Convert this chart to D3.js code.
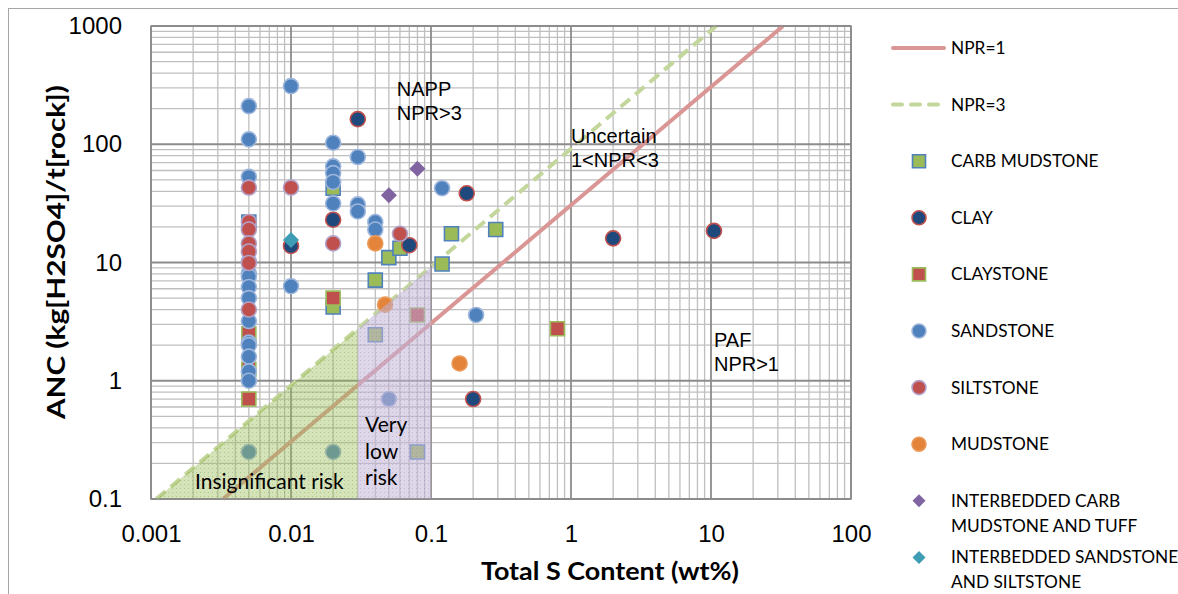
<!DOCTYPE html>
<html>
<head>
<meta charset="utf-8">
<script src="https://cdn.jsdelivr.net/npm/d3@7"></script>
<style>
  body { margin: 0; background: #ffffff; }
  svg { display: block; }
</style>
</head>
<body>
<svg id="chart" width="1178" height="594"></svg>
<script>
// ---- Axis ticks ----
const xTickValues = [0.001, 0.01, 0.1, 1, 10, 100];
const xTickLabels = ["0.001", "0.01", "0.1", "1", "10", "100"];
const yTickValues = [0.1, 1, 10, 100, 1000];
const yTickLabels = ["0.1", "1", "10", "100", "1000"];

// ---- Reference lines (ANC = NPR x 30.6 x S), end points inside the axes ----
const npr1S   = [0.00327, 32.7];
const npr1ANC = [0.1, 1000];
const npr3S   = [0.00109, 10.9];
const npr3ANC = [0.1, 1000];

// ---- Risk zones ----
const insignificantS   = [0.00109, 0.03, 0.03, 0.00109];
const insignificantANC = [0.1, 2.754, 0.1, 0.1];
const veryLowS   = [0.03, 0.1, 0.1, 0.03];
const veryLowANC = [2.754, 9.18, 0.1, 0.1];

// ---- Samples: total S (wt%) and ANC (kg H2SO4/t) ----
const carbMudstoneS   = [0.005, 0.02, 0.02, 0.04, 0.05, 0.06, 0.14, 0.29, 0.12, 0.04, 0.08];
const carbMudstoneANC = [22, 42.5, 4.2, 7.1, 11, 13.2, 17.5, 19, 9.7, 2.45, 0.25];

const clayS   = [0.03, 0.02, 0.01, 0.07, 0.18, 2, 10.5, 0.2];
const clayANC = [163, 23, 13.8, 14, 38.5, 16, 18.5, 0.7];

const claystoneS   = [0.005, 0.005, 0.005, 0.02, 0.08, 0.8];
const claystoneANC = [2.5, 1.25, 0.7, 5, 3.6, 2.75];

const sandstoneS   = [0.005, 0.005, 0.005, 0.005, 0.005, 0.005, 0.005, 0.005, 0.005, 0.005, 0.005, 0.005, 0.005, 0.005, 0.005,
                      0.01, 0.01, 0.02, 0.02, 0.02, 0.02, 0.02, 0.02, 0.03, 0.03, 0.03, 0.04, 0.04, 0.12, 0.21, 0.05];
const sandstoneANC = [210, 110, 53, 10.2, 8.1, 7.6, 6.2, 5, 3.2, 2.1, 2.0, 1.6, 1.2, 1.0, 0.25,
                      310, 6.3, 103, 65, 57, 48, 31.6, 0.25, 78, 31, 27, 22, 19, 42.5, 3.6, 0.7];

const siltstoneS   = [0.005, 0.005, 0.005, 0.005, 0.005, 0.005, 0.005, 0.01, 0.02, 0.06];
const siltstoneANC = [43, 22, 19, 14.5, 12.4, 9.9, 4, 43, 14.5, 17.5];

const mudstoneS   = [0.04, 0.047, 0.16];
const mudstoneANC = [14.5, 4.4, 1.4];

const carbTuffS   = [0.05, 0.08];
const carbTuffANC = [37, 62];

const sandSiltS   = [0.01];
const sandSiltANC = [15.5];

// ---- Layout ----
const svg = d3.select("#chart");
const plot = { left: 151, right: 851, top: 26, bottom: 499 };

const x = d3.scaleLog().domain([0.001, 100]).range([plot.left, plot.right]);
const y = d3.scaleLog().domain([0.1, 1000]).range([plot.bottom, plot.top]);

const ARIAL = "'Liberation Sans', Arial, sans-serif";
const SANS = "Lato, 'Open Sans', sans-serif";

// outer chart frame
svg.append("rect")
  .attr("x", 8.5).attr("y", 8.5).attr("width", 1300).attr("height", 700)
  .attr("fill", "#fff").attr("stroke", "#a6a6a6").attr("stroke-width", 1);

// ---- Grid ----
const minorX = [], minorY = [];
for (let e = -3; e < 2; e++) for (let m = 2; m <= 9; m++) minorX.push(m * Math.pow(10, e));
for (let e = -1; e < 3; e++) for (let m = 2; m <= 9; m++) minorY.push(m * Math.pow(10, e));

const grid = svg.append("g");
grid.selectAll("line.mx").data(minorX).join("line")
  .attr("x1", d => x(d)).attr("x2", d => x(d))
  .attr("y1", plot.top).attr("y2", plot.bottom)
  .attr("stroke", "#bfbfbf").attr("stroke-width", 1.3);
grid.selectAll("line.my").data(minorY).join("line")
  .attr("y1", d => y(d)).attr("y2", d => y(d))
  .attr("x1", plot.left).attr("x2", plot.right)
  .attr("stroke", "#bfbfbf").attr("stroke-width", 1.3);
grid.selectAll("line.Mx").data(xTickValues).join("line")
  .attr("x1", d => x(d)).attr("x2", d => x(d))
  .attr("y1", plot.top).attr("y2", plot.bottom)
  .attr("stroke", "#8c8c8c").attr("stroke-width", 1.8);
grid.selectAll("line.My").data(yTickValues).join("line")
  .attr("y1", d => y(d)).attr("y2", d => y(d))
  .attr("x1", plot.left).attr("x2", plot.right)
  .attr("stroke", "#8c8c8c").attr("stroke-width", 1.8);

// ---- Axes (labels only, grid provides the lines) ----
const xAxis = d3.axisBottom(x).tickValues(xTickValues)
  .tickFormat((d, i) => xTickLabels[i]).tickSize(0).tickPadding(26);
svg.append("g").attr("transform", `translate(0,${plot.bottom})`).call(xAxis)
  .call(g => g.select(".domain").remove())
  .selectAll("text").attr("font-family", ARIAL).attr("font-size", 24).attr("fill", "#000");

const yAxis = d3.axisLeft(y).tickValues(yTickValues)
  .tickFormat((d, i) => yTickLabels[i]).tickSize(0).tickPadding(29);
svg.append("g").attr("transform", `translate(${plot.left},0)`).call(yAxis)
  .call(g => g.select(".domain").remove())
  .selectAll("text").attr("font-family", ARIAL).attr("font-size", 24).attr("fill", "#000");

// ---- Reference lines ----
const line = d3.line().x(d => x(d[0])).y(d => y(d[1]));
svg.append("path").datum(d3.zip(npr1S, npr1ANC)).attr("d", line)
  .attr("fill", "none").attr("stroke", "#d99694").attr("stroke-width", 4);
svg.append("path").datum(d3.zip(npr3S, npr3ANC)).attr("d", line)
  .attr("fill", "none").attr("stroke", "#c3d69b").attr("stroke-width", 4)
  .attr("stroke-dasharray", "12,7");

// ---- Markers ----
function shapePath(kind, r) {
  if (kind === "square") return `M${-r},${-r}H${r}V${r}H${-r}Z`;
  if (kind === "diamond") return `M0,${-r}L${r},0L0,${r}L${-r},0Z`;
  return `M${r},0A${r},${r} 0 1,1 ${-r},0A${r},${r} 0 1,1 ${r},0Z`;
}

const series = [
  { name: "CARB MUDSTONE", s: carbMudstoneS, a: carbMudstoneANC, shape: "square", r: 7, fill: "#9bbb59", stroke: "#4f81bd" },
  { name: "CLAY", s: clayS, a: clayANC, shape: "circle", r: 7.5, fill: "#1f497d", stroke: "#c0504d" },
  { name: "CLAYSTONE", s: claystoneS, a: claystoneANC, shape: "square", r: 7, fill: "#c0504d", stroke: "#9bbb59" },
  { name: "SANDSTONE", s: sandstoneS, a: sandstoneANC, shape: "circle", r: 7.5, fill: "#4f81bd", stroke: "#9db6dc" },
  { name: "SILTSTONE", s: siltstoneS, a: siltstoneANC, shape: "circle", r: 7.5, fill: "#c0504d", stroke: "#b3a2c7" },
  { name: "MUDSTONE", s: mudstoneS, a: mudstoneANC, shape: "circle", r: 7.5, fill: "#e3843a", stroke: "#eb9a5a" },
  { name: ["INTERBEDDED CARB", "MUDSTONE AND TUFF"], s: carbTuffS, a: carbTuffANC, shape: "diamond", r: 8, fill: "#8064a2", stroke: "none" },
  { name: ["INTERBEDDED SANDSTONE", "AND SILTSTONE"], s: sandSiltS, a: sandSiltANC, shape: "diamond", r: 8, fill: "#3e9db5", stroke: "none" }
];

const marks = svg.append("g");
series.forEach(sr => {
  marks.append("g").selectAll("path").data(d3.zip(sr.s, sr.a)).join("path")
    .attr("transform", d => `translate(${x(d[0])},${y(d[1])})`)
    .attr("d", shapePath(sr.shape, sr.r))
    .attr("fill", sr.fill).attr("stroke", sr.stroke).attr("stroke-width", 1.6);
});

// ---- Risk zones, laid over the samples with a fine textured fill ----
const defs = svg.append("defs");
const pg = defs.append("pattern").attr("id", "insigTex").attr("patternUnits", "userSpaceOnUse")
  .attr("width", 4).attr("height", 4);
pg.append("rect").attr("width", 4).attr("height", 4).attr("fill", "#9bbb59").attr("fill-opacity", 0.42);
pg.append("rect").attr("width", 1).attr("height", 1).attr("fill", "#76923c").attr("fill-opacity", 0.35);
const pp = defs.append("pattern").attr("id", "lowTex").attr("patternUnits", "userSpaceOnUse")
  .attr("width", 4).attr("height", 4);
pp.append("rect").attr("width", 4).attr("height", 4).attr("fill", "#c2b4d6").attr("fill-opacity", 0.55);
pp.append("rect").attr("width", 1).attr("height", 1).attr("fill", "#8064a2").attr("fill-opacity", 0.25);

const zone = d3.line().x(d => x(d[0])).y(d => y(d[1])).curve(d3.curveLinearClosed);
svg.append("path").datum(d3.zip(insignificantS, insignificantANC)).attr("d", zone)
  .attr("fill", "url(#insigTex)");
svg.append("path").datum(d3.zip(veryLowS, veryLowANC)).attr("d", zone)
  .attr("fill", "url(#lowTex)");

// plot frame
svg.append("rect").attr("x", plot.left).attr("y", plot.top)
  .attr("width", plot.right - plot.left).attr("height", plot.bottom - plot.top)
  .attr("fill", "none").attr("stroke", "#8c8c8c").attr("stroke-width", 1.5);

// ---- Zone annotations ----
const notes = [
  { s: 0.057, a: 256, lines: ["NAPP", "NPR>3"], font: ARIAL, size: 20, step: 24 },
  { s: 1.0, a: 102, lines: ["Uncertain", "1<NPR<3"], font: ARIAL, size: 20, step: 24 },
  { s: 10.5, a: 1.93, lines: ["PAF", "NPR>1"], font: ARIAL, size: 20, step: 24 },
  { s: 0.00206, a: 0.1216, lines: ["Insignificant risk"], font: SANS, size: 21, step: 0 },
  { s: 0.0338, a: 0.369, lines: ["Very", "low", "risk"], font: SANS, size: 21, step: 26.7 }
];
notes.forEach(n => {
  const t = svg.append("text").attr("x", x(n.s)).attr("y", y(n.a))
    .attr("font-family", n.font).attr("font-size", n.size).attr("fill", "#000");
  n.lines.forEach((l, i) => t.append("tspan").attr("x", x(n.s)).attr("dy", i ? n.step : 0).text(l));
});

// ---- Axis titles ----
svg.append("text").attr("x", 610).attr("y", 580)
  .attr("text-anchor", "middle").attr("font-family", SANS).attr("font-weight", 700)
  .attr("font-size", 24).attr("textLength", 258).attr("lengthAdjust", "spacingAndGlyphs")
  .attr("fill", "#000").text("Total S Content (wt%)");
svg.append("text").attr("transform", `translate(65,252) rotate(-90)`)
  .attr("text-anchor", "middle").attr("font-family", SANS).attr("font-weight", 700)
  .attr("font-size", 24).attr("textLength", 334).attr("lengthAdjust", "spacingAndGlyphs")
  .attr("fill", "#000").text("ANC (kg[H2SO4]/t[rock])");

// ---- Legend ----
const lg = svg.append("g");
const rowY = i => 48 + i * 56.6;
const legendItems = [
  { kind: "line", name: "NPR=1", stroke: "#d99694", dash: null },
  { kind: "line", name: "NPR=3", stroke: "#c3d69b", dash: "9,9" },
  ...series.map(sr => ({ kind: "mark", ...sr }))
];
legendItems.forEach((it, i) => {
  const cy = rowY(i);
  if (it.kind === "line") {
    lg.append("line").attr("x1", 893).attr("x2", 944).attr("y1", cy).attr("y2", cy)
      .attr("stroke", it.stroke).attr("stroke-width", 4).attr("stroke-linecap", "round")
      .attr("stroke-dasharray", it.dash);
  } else {
    lg.append("path").attr("transform", `translate(919,${cy})`)
      .attr("d", shapePath(it.shape, it.shape === "circle" ? 7 : 6.5))
      .attr("fill", it.fill).attr("stroke", it.stroke).attr("stroke-width", 1.6);
  }
  const names = Array.isArray(it.name) ? it.name : [it.name];
  const t = lg.append("text").attr("x", 951).attr("y", cy + 6)
    .attr("font-family", SANS).attr("font-size", 17.3).attr("fill", "#000");
  names.forEach((nm, j) => t.append("tspan").attr("x", 951).attr("dy", j ? 25 : 0).text(nm));
});
</script>
</body>
</html>
